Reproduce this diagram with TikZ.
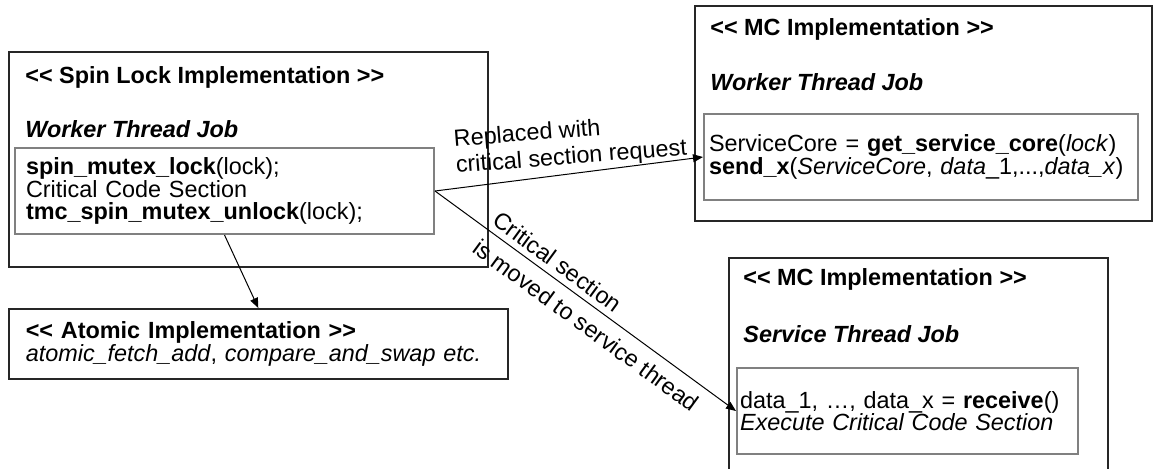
\documentclass[tikz,border=0pt]{standalone}
\usepackage{fontspec}
\setmainfont{Liberation Sans}
\usetikzlibrary{arrows.meta,positioning}
\newcommand{\stopen}{<\kern0pt<}
\newcommand{\stclose}{>\kern0pt>}
\tikzset{every node/.style={font=\fontsize{11.7}{11.2}\selectfont},
        implbox/.style={draw=black!85, line width=0.8pt, anchor=north west, inner sep=0pt},
        codebox/.style={draw=black!50, line width=1pt, anchor=north west, align=left, inner ysep=0pt},
        boxtext/.style={anchor=base west, inner sep=0pt},
        flow/.style={-{Triangle[length=5pt,width=4pt]}, line width=0.5pt},
        flowlabel/.style={align=left, inner sep=0pt},
        }

\begin{document}
\begin{tikzpicture}[x=0.5pt,y=-0.5pt]
    \useasboundingbox (0,0) rectangle (1153,468);

    % spin lock
    \node[implbox, minimum width=239.5pt, minimum height=107.5pt] (spin) at (8,51) {};
    \node[boxtext] (spintitle) at (25,83) {\textbf{\stopen{} Spin Lock Implementation \stclose}};
    \node[boxtext] (spinjob) at (25,137) {\textbf{\textit{Worker Thread Job}}};
    \node[codebox, inner xsep=5.5pt, text width=198.5pt, minimum height=43pt] (spincode) at (14,147)
        {\textbf{spin\_mutex\_lock}(lock);\\
         Critical Code Section\\
         \textbf{tmc\_spin\_mutex\_unlock}(lock);};

    % atomic
    \node[implbox, align=left, inner xsep=8.5pt, text width=232.5pt, minimum height=35pt] (atomic) at (8,308)
        {\textbf{\stopen{} Atomic Implementation \stclose}\\
         \textit{atomic\_fetch\_add}, \textit{compare\_and\_swap etc.}};

    % mc worker
    \node[implbox, minimum width=228.5pt, minimum height=107.5pt] (worker) at (694,5) {};
    \node[boxtext] (workertitle) at (710,35) {\textbf{\stopen{} MC Implementation \stclose}};
    \node[boxtext] (workerjob) at (710,90) {\textbf{\textit{Worker Thread Job}}};
    \node[codebox, inner xsep=2.5pt, text width=212pt, minimum height=43pt] (workercode) at (703,113)
        {ServiceCore = \textbf{get\_service\_core}(\textit{lock})\\
         \textbf{send\_x}(\textit{ServiceCore}, \textit{data}\_1,...,\textit{data\_x})};

    % mc service
    \node[implbox, minimum width=189.5pt, minimum height=111.5pt] (service) at (728,257) {};
    \node[boxtext] (servicetitle) at (743,285) {\textbf{\stopen{} MC Implementation \stclose}};
    \node[boxtext] (servicejob) at (743,342) {\textbf{\textit{Service Thread Job}}};
    \node[codebox, inner xsep=1.5pt, text width=167.5pt, minimum height=43pt] (servicecode) at (736,367)
        {data\_1, …, data\_x = \textbf{receive}()\\
         \textit{Execute Critical Code Section}};

    \draw[flow] (spincode.east) -- (workercode.west)
        node[flowlabel, pos=0.08, anchor=south west, yshift=5pt, rotate=4.5] {Replaced with\\[2pt]critical section request};
    \draw[flow] (spincode.east) -- (servicecode.west)
        node[flowlabel, pos=0.54, anchor=center, sloped, yshift=-1pt] {Critical section\\[6pt]is moved to service thread};
    \draw[flow] (spincode.south) -- (atomic.north);

\end{tikzpicture}
\end{document}
